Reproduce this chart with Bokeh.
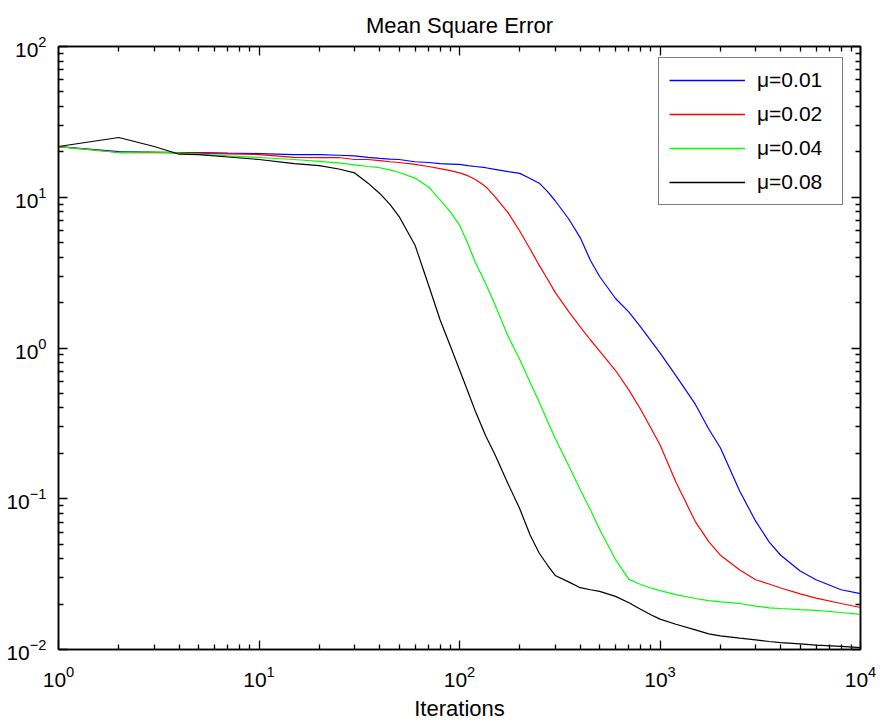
from bokeh.plotting import figure
from bokeh.models import FixedTicker, LogAxis, CustomJSTickFormatter
from bokeh.embed import file_html
from bokeh.resources import INLINE

iters = [1, 2, 3, 4, 5, 7, 10, 15, 20, 25, 30, 35, 40, 45, 50, 60, 70, 80, 90, 100,
         110, 120, 135, 150, 175, 200, 225, 250, 275, 300, 350, 400, 450, 500, 600,
         700, 800, 900, 1000, 1200, 1500, 1750, 2000, 2500, 3000, 3500, 4000, 5000,
         6000, 8000, 10000]

mse_001 = [21.7, 20.1, 19.9, 19.8, 19.8, 19.6, 19.5, 19.2, 19.2, 19.0, 18.8, 18.4,
           18.1, 17.9, 17.8, 17.2, 17.0, 16.7, 16.6, 16.5, 16.2, 16.0, 15.7, 15.3,
           14.8, 14.4, 13.3, 12.4, 10.9, 9.48, 7.2, 5.40, 3.81, 2.98, 2.13, 1.73,
           1.38, 1.12, 0.928, 0.656, 0.424, 0.290, 0.218, 0.112, 0.0710, 0.0518,
           0.0422, 0.0332, 0.0290, 0.0249, 0.0235]
mse_002 = [21.7, 19.8, 19.8, 19.7, 19.6, 19.4, 19.2, 18.4, 18.3, 18.35, 17.8, 17.8,
           17.5, 17.2, 17.0, 16.5, 16.0, 15.5, 15.0, 14.5, 13.9, 13.1, 11.8, 10.1,
           7.87, 5.95, 4.54, 3.53, 2.86, 2.34, 1.75, 1.38, 1.13, 0.955, 0.709, 0.525,
           0.392, 0.295, 0.228, 0.129, 0.0706, 0.0519, 0.0422, 0.0337, 0.0290,
           0.0272, 0.0256, 0.0234, 0.0219, 0.0202, 0.0190]
mse_004 = [21.7, 19.8, 20.0, 19.6, 19.3, 18.8, 18.35, 17.8, 17.3, 16.9, 16.4, 16.0,
           15.7, 15.2, 14.6, 13.4, 11.7, 9.6, 8.0, 6.54, 4.93, 3.69, 2.68, 1.95,
           1.19, 0.835, 0.593, 0.436, 0.325, 0.252, 0.166, 0.115, 0.0843, 0.0625,
           0.0395, 0.0292, 0.0270, 0.0256, 0.0246, 0.0231, 0.0218, 0.0211, 0.0207,
           0.0202, 0.0194, 0.0189, 0.0187, 0.0184, 0.0182, 0.0176, 0.0171]
mse_008 = [21.7, 24.9, 21.7, 19.3, 19.2, 18.5, 17.8, 16.7, 16.2, 15.4, 14.5, 12.4,
           10.6, 8.97, 7.45, 4.81, 2.63, 1.54, 1.03, 0.718, 0.517, 0.380, 0.262,
           0.197, 0.125, 0.0855, 0.0574, 0.0435, 0.0362, 0.0310, 0.0281, 0.0257,
           0.0249, 0.0243, 0.0225, 0.0204, 0.0185, 0.0170, 0.0159, 0.0147, 0.0135,
           0.0127, 0.0123, 0.0119, 0.0116, 0.0113, 0.0111, 0.0109, 0.0107, 0.0105,
           0.0103]

series_labels = ["\u03bc=0.01", "\u03bc=0.02", "\u03bc=0.04", "\u03bc=0.08"]
series_colors = ["#0000ff", "#ff0000", "#00ff00", "#000000"]
series_values = [mse_001, mse_002, mse_004, mse_008]

x_major = [1, 10, 100, 1000, 10000]
y_major = [0.01, 0.1, 1, 10, 100]

FONT = "Liberation Sans"

p = figure(width=876, height=724, x_axis_type="log", y_axis_type="log",
           x_range=(1, 10000), y_range=(0.01, 100),
           output_backend="svg", toolbar_location=None,
           min_border_left=58, min_border_right=16, min_border_top=46,
           min_border_bottom=75)

p.background_fill_color = "white"
p.border_fill_color = "white"
p.outline_line_color = "black"
p.outline_line_width = 1.5
p.grid.visible = False

for lab, col, vals in zip(series_labels, series_colors, series_values):
    p.line(iters, vals, line_color=col, line_width=1.2)
    # legend key renderer: a single point of the series (draws no visible line)
    p.line(iters[:1], vals[:1], line_color=col, line_width=1.3, legend_label=lab)

x_minor = [m * 10 ** k for k in range(4) for m in range(2, 10)]
y_minor = [m * 10.0 ** k for k in range(-2, 2) for m in range(2, 10)]


def style_axis(ax, show_labels):
    ax.axis_line_color = "black"
    ax.axis_line_width = 1.5
    ax.major_tick_line_color = "black"
    ax.minor_tick_line_color = "black"
    ax.major_tick_line_width = 1.3
    ax.minor_tick_line_width = 1.3
    ax.major_tick_in = 9
    ax.major_tick_out = 0
    ax.minor_tick_in = 5
    ax.minor_tick_out = 0
    if show_labels:
        ax.major_label_text_font = FONT
        ax.major_label_text_font_size = "21px"
        ax.major_label_text_color = "black"
    else:
        ax.formatter = CustomJSTickFormatter(code="return '';")
        ax.major_label_text_font_size = "1px"
        ax.major_label_standoff = 0


p.xaxis.ticker = FixedTicker(ticks=x_major, minor_ticks=x_minor)
p.yaxis.ticker = FixedTicker(ticks=y_major, minor_ticks=y_minor)
style_axis(p.xaxis[0], True)
style_axis(p.yaxis[0], True)
p.xaxis.major_label_standoff = 16
p.yaxis.major_label_standoff = 12

p.xaxis.axis_label = "Iterations"
p.xaxis.axis_label_text_font = FONT
p.xaxis.axis_label_text_font_size = "22px"
p.xaxis.axis_label_text_font_style = "normal"
p.xaxis.axis_label_text_color = "black"
p.xaxis.axis_label_standoff = 6

top_ax = LogAxis(ticker=FixedTicker(ticks=x_major, minor_ticks=x_minor))
right_ax = LogAxis(ticker=FixedTicker(ticks=y_major, minor_ticks=y_minor))
style_axis(top_ax, False)
style_axis(right_ax, False)
p.add_layout(top_ax, "above")
p.add_layout(right_ax, "right")

p.title.text = "Mean Square Error"
p.title.align = "center"
p.title.text_font = FONT
p.title.text_font_size = "22px"
p.title.text_font_style = "normal"
p.title.text_color = "black"
p.title.standoff = 17

lg = p.legend[0]
lg.location = (600, 444)
lg.border_line_color = "black"
lg.border_line_width = 1.2
lg.background_fill_color = "white"
lg.background_fill_alpha = 1.0
lg.label_text_font = FONT
lg.label_text_font_size = "21px"
lg.label_text_color = "black"
lg.glyph_width = 76
lg.glyph_height = 24
lg.label_height = 24
lg.label_width = 75
lg.label_standoff = 12
lg.padding = 10
lg.spacing = 10
lg.margin = 0

open("out.html", "w").write(file_html(p, INLINE))
